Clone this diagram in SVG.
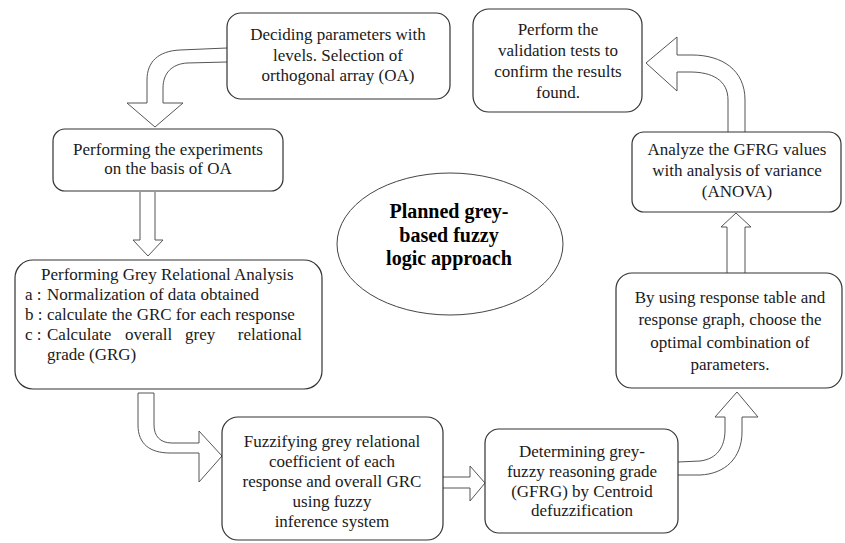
<svg xmlns="http://www.w3.org/2000/svg" width="845" height="543" viewBox="0 0 845 543">
<style>
.box{fill:#fff;stroke:#333;stroke-width:1.2}
.arr{fill:#fff;stroke:#555;stroke-width:1}
.t{font-family:"Liberation Serif","Times New Roman",serif;font-size:17px;fill:#1a1a1a}
.c{text-anchor:middle}
.b{font-weight:bold;font-size:20px;fill:#000}
</style>
<rect width="845" height="543" fill="#fff"/>
<g id="connectors">
<path class="arr" d="M227,62 L187,63 C172,64 163,73 163,88 L163,103 L183,103 L155,127 L127,103 L147,103 L147,80 C147,62 158,51 180,50 L227,48"/>
<path class="arr" d="M140,192 L140,240 L133,240 L148,256 L163,240 L155,240 L155,192"/>
<path class="arr" d="M138,393 L138,425 C138,444 150,453 170,453 L199,453 L199,482 L222,456 L199,431 L199,443 L172,443 C160,443 154,436 154,425 L154,393 Z"/>
<path class="arr" d="M443,477 L470,477 L470,466 L485,483 L470,501 L470,488 L443,488"/>
<path class="arr" d="M678,462 L700,461 C717,459 725,447 725,430 L725,417 L715,417 L737,392 L758,417 L742,417 L742,432 C742,458 725,474 700,475 L678,475"/>
<path class="arr" d="M727,273 L727,227 L721,227 L736,213 L751,227 L745,227 L745,273"/>
<path class="arr" d="M728,132 L728,100 C728,80 712,72 690,72 L677,72 L677,91 L646,63 L677,37 L677,55 L692,55 C722,55 745,70 745,100 L745,132"/>
</g>
<g id="n1">
<rect class="box" x="227" y="13" width="223" height="86" rx="14"/>
<text class="t c" x="338" y="40">Deciding parameters with</text>
<text class="t c" x="338" y="60.5">levels. Selection of</text>
<text class="t c" x="338" y="81">orthogonal array (OA)</text>
</g>
<g id="n2">
<rect class="box" x="53" y="129" width="230" height="62" rx="12"/>
<text class="t c" x="168" y="155">Performing the experiments</text>
<text class="t c" x="168" y="174">on the basis of OA</text>
</g>
<g id="n3">
<rect class="box" x="15" y="260" width="307" height="129" rx="18"/>
<text class="t" x="41" y="280">Performing Grey Relational Analysis</text>
<text class="t" x="25" y="300">a :</text><text class="t" x="47" y="300">Normalization of data obtained</text>
<text class="t" x="25" y="320">b :</text><text class="t" x="47" y="320">calculate the GRC for each response</text>
<text class="t" x="25" y="340">c :</text><text class="t" x="47" y="340">Calculate</text><text class="t" x="125" y="340">overall</text><text class="t" x="185" y="340">grey</text><text class="t" x="302" y="340" text-anchor="end">relational</text>
<text class="t" x="47" y="360">grade (GRG)</text>
</g>
<g id="n4">
<rect class="box" x="222" y="417" width="221" height="123" rx="16"/>
<text class="t c" x="332" y="447">Fuzzifying grey relational</text>
<text class="t c" x="332" y="467">coefficient of each</text>
<text class="t c" x="332" y="487">response and overall GRC</text>
<text class="t c" x="332" y="507">using fuzzy</text>
<text class="t c" x="332" y="527">inference system</text>
</g>
<g id="n5">
<rect class="box" x="485" y="429" width="193" height="104" rx="14"/>
<text class="t c" x="582" y="457">Determining grey-</text>
<text class="t c" x="582" y="477">fuzzy reasoning grade</text>
<text class="t c" x="582" y="497">(GFRG) by Centroid</text>
<text class="t c" x="582" y="516">defuzzification</text>
</g>
<g id="n6">
<rect class="box" x="616" y="273" width="226" height="115" rx="16"/>
<text class="t c" x="730" y="303">By using response table and</text>
<text class="t c" x="730" y="325">response graph, choose the</text>
<text class="t c" x="730" y="348">optimal combination of</text>
<text class="t c" x="730" y="370">parameters.</text>
</g>
<g id="n7">
<rect class="box" x="632" y="132" width="209" height="80" rx="12"/>
<text class="t c" x="737" y="155">Analyze the GFRG values</text>
<text class="t c" x="737" y="176">with analysis of variance</text>
<text class="t c" x="737" y="197">(ANOVA)</text>
</g>
<g id="n8">
<rect class="box" x="473" y="9" width="169" height="103" rx="16"/>
<text class="t c" x="558" y="35">Perform the</text>
<text class="t c" x="558" y="56">validation tests to</text>
<text class="t c" x="558" y="77">confirm the results</text>
<text class="t c" x="558" y="98">found.</text>
</g>
<g id="center">
<ellipse cx="450" cy="244" rx="113" ry="71" fill="#fff" stroke="#444" stroke-width="1"/>
<text class="t c b" x="449" y="218">Planned grey-</text>
<text class="t c b" x="449" y="242">based fuzzy</text>
<text class="t c b" x="449" y="265">logic approach</text>
</g>
</svg>
